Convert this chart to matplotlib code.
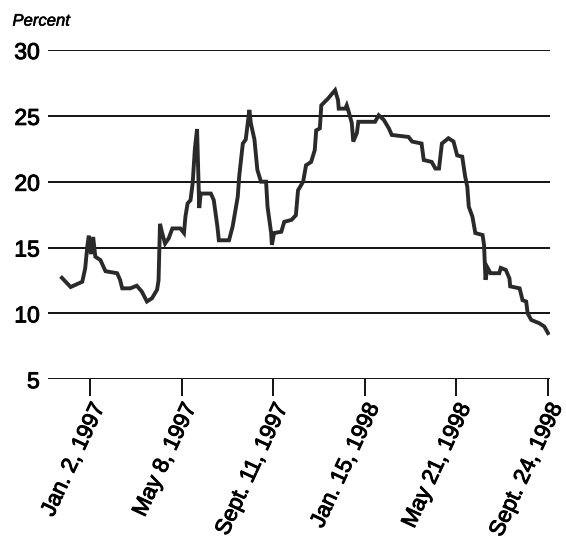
import numpy as np
import pandas as pd
import matplotlib
matplotlib.use('Agg')
import matplotlib.pyplot as plt
import matplotlib.patheffects as pe

plt.rcParams.update({
    'font.family': ['Liberation Sans', 'DejaVu Sans'],
    'font.size': 12,
})

# Weekly-ish readings of the series (date, percent)
dates = [
    '1996-11-24', '1996-12-06', '1996-12-12', '1996-12-22', '1996-12-26', '1996-12-29',
    '1996-12-31', '1997-01-03', '1997-01-06', '1997-01-09', '1997-01-16', '1997-01-23',
    '1997-02-08', '1997-02-12', '1997-02-15', '1997-02-26', '1997-03-07', '1997-03-14',
    '1997-03-21', '1997-03-28', '1997-04-04', '1997-04-06', '1997-04-08', '1997-04-11',
    '1997-04-15', '1997-04-20', '1997-04-25', '1997-05-06', '1997-05-11', '1997-05-13',
    '1997-05-16', '1997-05-20', '1997-05-23', '1997-05-26', '1997-05-29', '1997-06-01',
    '1997-06-03', '1997-06-17', '1997-06-21', '1997-06-26', '1997-06-28', '1997-07-12',
    '1997-07-17', '1997-07-24', '1997-07-26', '1997-07-31', '1997-08-04', '1997-08-09',
    '1997-08-11', '1997-08-16', '1997-08-20', '1997-08-25', '1997-09-01', '1997-09-03',
    '1997-09-08', '1997-09-09', '1997-09-12', '1997-09-22', '1997-09-26', '1997-10-06',
    '1997-10-12', '1997-10-15', '1997-10-22', '1997-10-26', '1997-11-02', '1997-11-07',
    '1997-11-09', '1997-11-14', '1997-11-16', '1997-11-25', '1997-12-05', '1997-12-09',
    '1997-12-10', '1997-12-19', '1997-12-21', '1997-12-23', '1997-12-28', '1997-12-30',
    '1998-01-04', '1998-01-06', '1998-01-29', '1998-02-03', '1998-02-10', '1998-02-17',
    '1998-02-21', '1998-03-16', '1998-03-21', '1998-04-03', '1998-04-06', '1998-04-17',
    '1998-04-22', '1998-04-27', '1998-05-01', '1998-05-10', '1998-05-17', '1998-05-22',
    '1998-05-29', '1998-06-02', '1998-06-05', '1998-06-07', '1998-06-12', '1998-06-16',
    '1998-06-26', '1998-06-28', '1998-06-30', '1998-07-03', '1998-07-07', '1998-07-19',
    '1998-07-21', '1998-07-28', '1998-08-02', '1998-08-03', '1998-08-16', '1998-08-20',
    '1998-08-25', '1998-08-27', '1998-09-01', '1998-09-12', '1998-09-19', '1998-09-24',
]
values = [
    12.7, 12.0, 12.15, 12.4, 13.4, 15.1,
    15.9, 14.5, 15.8, 14.3, 14.05, 13.2,
    13.05, 12.55, 11.9, 11.9, 12.1, 11.65,
    10.9, 11.15, 11.8, 12.5, 16.8, 16.1,
    15.3, 15.7, 16.45, 16.45, 16.1, 17.35,
    18.35, 18.6, 19.9, 22.5, 24.0, 18.0,
    19.1, 19.1, 18.6, 16.6, 15.55, 15.55,
    16.6, 18.85, 20.4, 22.9, 23.2, 25.45,
    24.45, 23.2, 20.9, 20.0, 20.0, 18.1,
    16.1, 15.2, 16.1, 16.2, 16.95, 17.1,
    17.45, 19.35, 20.0, 21.25, 21.5, 22.4,
    23.9, 24.05, 25.8, 26.3, 26.95, 26.2,
    25.55, 25.55, 25.8, 25.45, 24.45, 23.05,
    23.7, 24.55, 24.55, 25.05, 24.7, 24.05,
    23.55, 23.4, 23.05, 22.9, 21.65, 21.5,
    21.0, 21.0, 22.9, 23.3, 23.05, 22.0,
    21.9, 20.4, 19.6, 18.1, 17.35, 16.1,
    15.95, 15.2, 12.55, 13.45, 13.05, 13.05,
    13.45, 13.3, 12.65, 12.05, 11.9, 11.0,
    10.9, 10.0, 9.5, 9.25, 9.0, 8.5,
]

tick_dates = ['1997-01-02', '1997-05-08', '1997-09-11', '1998-01-15', '1998-05-21', '1998-09-24']
tick_labels = ['Jan. 2, 1997', 'May 8, 1997', 'Sept. 11, 1997',
               'Jan. 15, 1998', 'May 21, 1998', 'Sept. 24, 1998']
y_ticks = [5, 10, 15, 20, 25, 30]

# slightly heavier strokes, like the printed original
thick = [pe.withStroke(linewidth=0.7, foreground='black')]

fig = plt.figure(figsize=(5.66, 5.56), dpi=100)
ax = fig.add_axes([0.085, 0.318, 0.887, 0.592])

x = pd.to_datetime(dates)
ax.plot(x, values, color='#2a2a2a', linewidth=2.8, solid_joinstyle='miter', zorder=3)

for yv in y_ticks:
    ax.axhline(yv, color='black', linewidth=1.3, zorder=2)

ax.set_ylim(5, 30)
ax.set_xlim(pd.Timestamp('1996-11-05'), pd.Timestamp('1998-09-27'))
ax.set_yticks(y_ticks)
ax.set_yticklabels([str(v) for v in y_ticks], fontsize=16.5)
ax.tick_params(axis='y', length=0, pad=6)

ax.set_xticks(pd.to_datetime(tick_dates))
ax.set_xticklabels(tick_labels, rotation=65, ha='right', va='top',
                   rotation_mode='anchor', fontsize=16)
ax.tick_params(axis='x', direction='out', length=12, width=1.3, pad=3)

for lab in ax.get_xticklabels() + ax.get_yticklabels():
    lab.set_path_effects(thick)

for s in ax.spines.values():
    s.set_visible(False)

fig.text(0.022, 0.962, 'Percent', fontsize=12, style='italic', ha='left', va='center',
         path_effects=[pe.withStroke(linewidth=0.4, foreground='black')])

fig.savefig('out.png', dpi=100)
